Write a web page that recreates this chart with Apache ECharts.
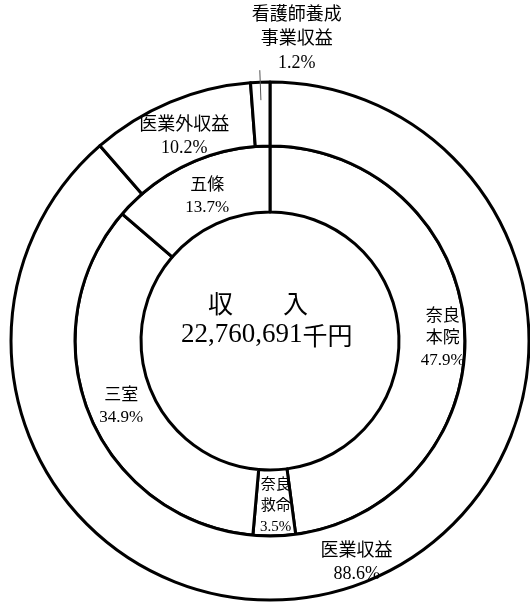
<!DOCTYPE html>
<html>
<head>
<meta charset="utf-8">
<script src="https://cdn.jsdelivr.net/npm/echarts@6/dist/echarts.min.js"></script>
<style>
  html, body { margin: 0; padding: 0; background: #fff; }
  #chart { width: 530px; height: 605px; }
</style>
</head>
<body>
<div id="chart"></div>
<script>
// 収入の内訳：外側は収益区分、内側は病院別
const outerNames = ['医業収益', '医業外収益', '看護師養成\n事業収益'];
const outerValues = [88.6, 10.2, 1.2];
const innerNames = ['奈良\n本院', '奈良\n救命', '三室', '五條'];
const innerValues = [47.9, 3.5, 34.9, 13.7];
const centerTitle = '収　　入';
const centerTotalNum = '22,760,691';
const centerTotalUnit = '千円';

const FONT = '"Liberation Serif", "Noto Sans CJK JP", serif';
const CX = 270, CY = 341;
const R_IN = 129, R_MID = 195, R_OUT = 259;
const LEADER_IN = 18;   // leader line starts this far inside the outer edge
const LEADER_OUT = 12;  // and reaches this far beyond it

// small nudges of the inside labels away from the sector centroid
const innerLabelOffsets = [[8, 8], [2, 0], [4, 3], [6, 5]];
const outerLabelOffsets = [[6, 6], [3, 8], [0, 0]];

const pct = v => v.toFixed(1) + '%';
const fmt = p => p.name + '\n' + pct(p.value);

const innerData = innerNames.map((n, i) => ({
  name: n,
  value: innerValues[i],
  label: i === 1
    ? { fontSize: 15, lineHeight: 21, offset: innerLabelOffsets[i] }
    : { offset: innerLabelOffsets[i] }
}));

// the last outer slice is too thin for an inside label
const outerData = outerNames.map((n, i) => ({
  name: n,
  value: outerValues[i],
  label: i === 2 ? { show: false } : { offset: outerLabelOffsets[i] }
}));

// transparent copy of the outer ring, slightly smaller, that only carries
// the leader line and label of the thin slice (drawn above the rings)
const leaderData = outerNames.map((n, i) => ({
  name: n,
  value: outerValues[i],
  label: { show: i === 2 },
  labelLine: { show: i === 2 }
}));

const ringStyle = { color: '#fff', borderColor: '#000', borderWidth: 3 };
const common = {
  type: 'pie',
  center: [CX, CY],
  startAngle: 90,
  clockwise: true,
  silent: true,
  emphasis: { disabled: true },
  avoidLabelOverlap: false
};

const chart = echarts.init(document.getElementById('chart'), null, { renderer: 'canvas' });
chart.setOption({
  animation: false,
  backgroundColor: '#fff',
  textStyle: { fontFamily: FONT },
  series: [
    Object.assign({}, common, {
      radius: [R_IN, R_MID],
      itemStyle: ringStyle,
      label: {
        show: true, position: 'inside', formatter: fmt,
        color: '#000', fontFamily: FONT, fontSize: 17, lineHeight: 22
      },
      labelLine: { show: false },
      data: innerData
    }),
    Object.assign({}, common, {
      radius: [R_MID, R_OUT],
      itemStyle: ringStyle,
      label: {
        show: true, position: 'inside', formatter: fmt,
        color: '#000', fontFamily: FONT, fontSize: 18, lineHeight: 23
      },
      labelLine: { show: false },
      data: outerData
    }),
    Object.assign({}, common, {
      z: 5,
      radius: [0, R_OUT - LEADER_IN],
      itemStyle: { color: 'rgba(0,0,0,0)', borderWidth: 0 },
      label: {
        position: 'outside', formatter: fmt, distanceToLabelLine: 0,
        color: '#000', fontFamily: FONT, fontSize: 18, lineHeight: 24
      },
      labelLine: {
        length: LEADER_IN + LEADER_OUT, length2: 0, smooth: false,
        lineStyle: { color: '#555', width: 1 }
      },
      labelLayout: function (p) {
        // centre the text block above the end of the leader line
        const end = p.labelLinePoints ? p.labelLinePoints[p.labelLinePoints.length - 1] : null;
        const ax = end ? end[0] : p.labelRect.x + p.labelRect.width;
        const ay = end ? end[1] : p.labelRect.y + p.labelRect.height / 2;
        return { x: ax + 37, y: ay - 31, align: 'center', verticalAlign: 'middle',
                 labelLinePoints: end ? p.labelLinePoints : undefined };
      },
      data: leaderData
    })
  ],
  graphic: [
    { type: 'text', left: 208, top: 294, silent: true,
      style: { text: centerTitle, font: '25px ' + FONT, fill: '#000' } },
    { type: 'text', left: 181, top: 321, silent: true,
      style: {
        text: '{n|' + centerTotalNum + '}{u|' + centerTotalUnit + '}',
        rich: {
          n: { fontFamily: '"Liberation Serif", serif', fontSize: 27, fill: '#000', verticalAlign: 'bottom' },
          u: { fontFamily: '"Noto Sans CJK JP", sans-serif', fontSize: 25, fill: '#000', verticalAlign: 'bottom' }
        }
      } }
  ]
});
</script>
</body>
</html>
